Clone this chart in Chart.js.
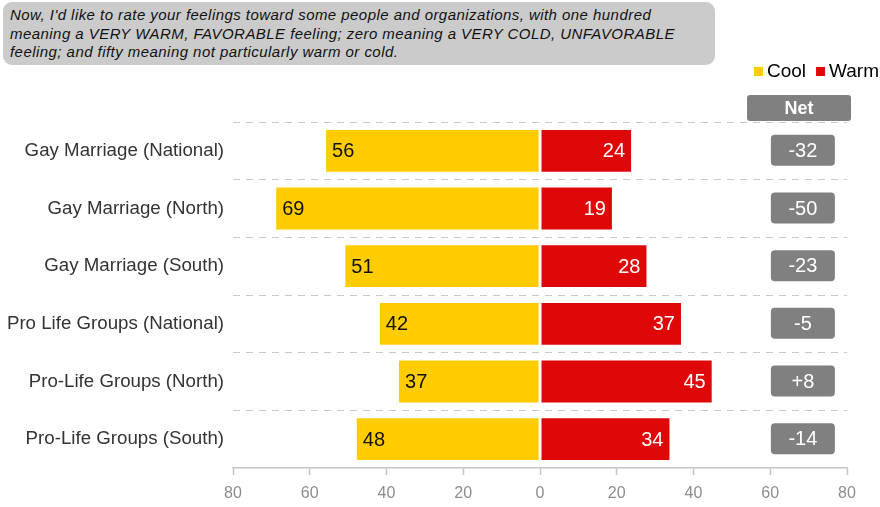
<!DOCTYPE html>
<html lang="en">
<head>
    <meta charset="UTF-8">
    <title>Feeling thermometer</title>
    <script src="https://cdn.jsdelivr.net/npm/chart.js"></script>
    <style>
        body {
            margin: 0;
            padding: 0;
            background: #fff;
            font-family: "Liberation Sans", Arial, sans-serif;
        }

        .wrap {
            position: relative;
            width: 880px;
            height: 507px;
        }

        /* question box in the top left */
        .question {
            position: absolute;
            left: 3px;
            top: 2px;
            width: 698px;
            height: 57px;
            padding: 4px 7px 2px 7px;
            background: #cbcbcb;
            border-radius: 9px;
            font-style: italic;
            font-size: 15px;
            letter-spacing: 0.45px;
            line-height: 18.5px;
            color: #111;
            white-space: nowrap;
        }
    </style>
</head>
<body>
    <div class="wrap">
        <canvas id="myChart" width="880" height="507"></canvas>
        <div class="question">Now, I'd like to rate your feelings toward some people and organizations, with one hundred<br>meaning a VERY WARM, FAVORABLE feeling; zero meaning a VERY COLD, UNFAVORABLE<br>feeling; and fifty meaning not particularly warm or cold.</div>
    </div>

    <script>
        const categories = [
            'Gay Marriage (National)',
            'Gay Marriage (North)',
            'Gay Marriage (South)',
            'Pro Life Groups (National)',
            'Pro-Life Groups (North)',
            'Pro-Life Groups (South)'
        ];
        const coolValues = [56, 69, 51, 42, 37, 48];
        const warmValues = [24, 19, 28, 37, 45, 34];
        const xTicks = [-80, -60, -40, -20, 0, 20, 40, 60, 80];

        const FONT = '"Liberation Sans", Arial, sans-serif';
        const COOL = '#ffcc00';
        const WARM = '#df0707';
        const GREY_BOX = '#808080';

        function roundBox(ctx, x, y, w, h, r) {
            ctx.beginPath();
            ctx.roundRect(x, y, w, h, r);
            ctx.fill();
        }

        // value labels, net boxes and the legend
        const extras = {
            id: 'extras',
            afterDatasetsDraw(chart) {
                const ctx = chart.ctx;
                const x = chart.scales.x;
                const y = chart.scales.y;
                const area = chart.chartArea;
                ctx.save();

                // numbers inside the bars
                ctx.font = '20px ' + FONT;
                ctx.textBaseline = 'middle';
                chart.getDatasetMeta(0).data.forEach((bar, i) => {
                    ctx.fillStyle = '#111';
                    ctx.textAlign = 'left';
                    ctx.fillText(coolValues[i], bar.x + 7, bar.y + 1);
                });
                chart.getDatasetMeta(1).data.forEach((bar, i) => {
                    ctx.fillStyle = '#fff';
                    ctx.textAlign = 'right';
                    ctx.fillText(warmValues[i], bar.x - 7, bar.y + 1);
                });

                // Net column
                const netX = x.getPixelForValue(68.5);
                categories.forEach((c, i) => {
                    const net = warmValues[i] - coolValues[i];
                    const cy = y.getPixelForValue(i);
                    ctx.fillStyle = GREY_BOX;
                    roundBox(ctx, netX - 32, cy - 16, 64, 31, 4);
                    ctx.fillStyle = '#fff';
                    ctx.textAlign = 'center';
                    ctx.font = '20px ' + FONT;
                    ctx.fillText((net > 0 ? '+' : '') + net, netX, cy + 0.5);
                });

                const headX = x.getPixelForValue(67.5);
                ctx.fillStyle = GREY_BOX;
                roundBox(ctx, headX - 52, area.top - 27, 104, 26, 3);
                ctx.fillStyle = '#fff';
                ctx.font = 'bold 18px ' + FONT;
                ctx.textAlign = 'center';
                ctx.fillText('Net', headX, area.top - 13);

                // legend, right aligned
                ctx.font = '19px ' + FONT;
                ctx.textAlign = 'left';
                const items = chart.data.datasets.map(d => ({ label: d.label, color: d.backgroundColor }));
                let lx = 879;
                const ly = 72;
                for (let k = items.length - 1; k >= 0; k--) {
                    const w = ctx.measureText(items[k].label).width;
                    lx -= w;
                    ctx.fillStyle = '#000';
                    ctx.fillText(items[k].label, lx, ly);
                    lx -= 13;
                    ctx.fillStyle = items[k].color;
                    ctx.fillRect(lx, ly - 5, 9, 9);
                    lx -= 10;
                }
                ctx.restore();
            }
        };

        new Chart(document.getElementById('myChart'), {
            type: 'bar',
            data: {
                labels: categories,
                datasets: [
                    {
                        label: 'Cool',
                        data: coolValues.map(v => -v),
                        backgroundColor: COOL,
                        borderColor: '#fff',
                        borderWidth: 1,
                        borderSkipped: false
                    },
                    {
                        label: 'Warm',
                        data: warmValues,
                        backgroundColor: WARM,
                        borderColor: '#fff',
                        borderWidth: 1,
                        borderSkipped: false
                    }
                ]
            },
            options: {
                indexAxis: 'y',
                responsive: false,
                animation: false,
                categoryPercentage: 1,
                barPercentage: 0.76,
                layout: { padding: { top: 122, right: 33, left: 0, bottom: 0 } },
                plugins: {
                    legend: { display: false },
                    tooltip: { enabled: false }
                },
                scales: {
                    x: {
                        stacked: true,
                        min: -80,
                        max: 80,
                        afterBuildTicks: scale => {
                            scale.ticks = xTicks.map(v => ({ value: v }));
                        },
                        afterFit: scale => { scale.height = 39; },
                        ticks: {
                            callback: v => Math.abs(v),
                            color: '#8c8c8c',
                            font: { family: FONT, size: 16 },
                            padding: 9,
                            maxRotation: 0
                        },
                        grid: {
                            drawOnChartArea: false,
                            drawTicks: true,
                            tickLength: 7,
                            tickColor: '#c4c4c4',
                            tickWidth: 1.5
                        },
                        border: { display: true, color: '#c4c4c4', width: 1.5 }
                    },
                    y: {
                        stacked: true,
                        afterFit: scale => { scale.width = 233; },
                        ticks: {
                            color: '#333',
                            font: { family: FONT, size: 18.7 },
                            padding: 9
                        },
                        grid: {
                            offset: true,
                            drawTicks: false,
                            color: '#c8c8c8',
                            lineWidth: 1
                        },
                        border: { display: false, dash: [7, 6] }
                    }
                }
            },
            plugins: [extras]
        });
    </script>
</body>
</html>
